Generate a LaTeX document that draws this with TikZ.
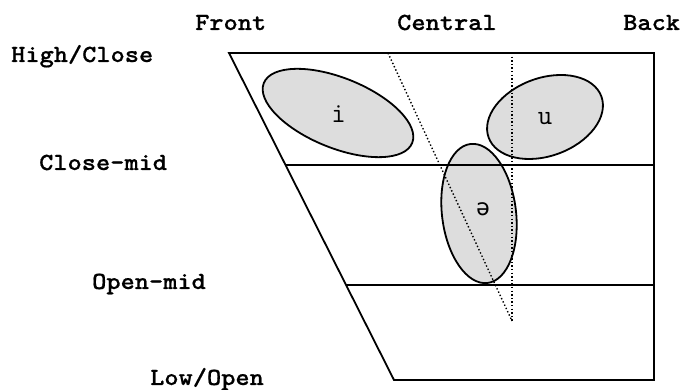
\documentclass[tikz,border=0pt]{standalone}
\usepackage{fontspec}
\usetikzlibrary{calc}
% bold typewriter face for the axis labels, widened towards Courier proportions
\newfontfamily\axisfont{Latin Modern Mono Light}[FakeStretch=1.1, FakeBold=0.6]
\newfontfamily\vowelfont{Latin Modern Mono}
\newfontfamily\schwafont{DejaVu Sans Mono}
\definecolor{vowelfill}{HTML}{DDDDDD}
\tikzset{
  axislabel/.style={anchor=base west, inner sep=0pt,
    font=\axisfont\bfseries\fontsize{24.6}{24.6}\selectfont},
  vowellabel/.style={anchor=base, inner sep=0pt,
    font=\vowelfont\fontsize{28}{28}\selectfont},
  frame/.style={line width=1.8pt, line join=miter},
  guide/.style={line width=1.4pt, dash pattern=on 1.4pt off 2.2pt},
  vowel/.style={line width=1.8pt, fill=vowelfill, draw=black},
}
\begin{document}
\begin{tikzpicture}[x=1pt, y=1pt]
  \useasboundingbox (0,0) rectangle (681,390);

  % corners of the vowel quadrilateral
  \coordinate (tl) at (229,337);
  \coordinate (tr) at (654,337);
  \coordinate (br) at (654,10);
  \coordinate (bl) at (394,10);

  % vowel regions
  \coordinate (ci) at (338,277);
  \coordinate (cu) at (545,273);
  \coordinate (cs) at (479,176.5);
  \draw[vowel, rotate around={-22:(ci)}] (ci) ellipse [x radius=80pt, y radius=35pt];
  \draw[vowel, rotate around={20:(cu)}] (cu) ellipse [x radius=60pt, y radius=39pt];
  \draw[vowel, rotate around={7:(cs)}] (cs) ellipse [x radius=37pt, y radius=70pt];

  % outline and height divisions
  \draw[frame] (tl) -- (tr) -- (br) -- (bl) -- cycle;
  \coordinate (cml) at ($(tl)!0.3425!(bl)$);
  \coordinate (cmr) at (tr |- cml);
  \coordinate (oml) at ($(tl)!0.7095!(bl)$);
  \coordinate (omr) at (tr |- oml);
  \draw[frame] (cml) -- (cmr);
  \draw[frame] (oml) -- (omr);

  % central guides
  \coordinate (gs) at (388,337);
  \coordinate (gv) at (512,337);
  \coordinate (gb) at (512,69);
  \draw[guide] (gs) -- (gb);
  \draw[guide] (gv) -- (gb);

  % vowel symbols
  \node[vowellabel] (vi) at (338.5,267) {i};
  \node[vowellabel] (vu) at (545,265) {u};
  \node[anchor=base, inner sep=0pt, font=\schwafont\fontsize{23}{23}\selectfont] (vs) at (483,174) {ə};

  % backness labels
  \node[axislabel] (front) at (195,360) {Front};
  \node[axislabel] (central) at (397,360) {Central};
  \node[axislabel] (back) at (623,360) {Back};

  % height labels
  \node[axislabel] (high) at (11,328) {High/Close};
  \node[axislabel] (closemid) at (39,220) {Close-mid};
  \node[axislabel] (openmid) at (92,101) {Open-mid};
  \node[axislabel] (low) at (150,5) {Low/Open};
\end{tikzpicture}
\end{document}
